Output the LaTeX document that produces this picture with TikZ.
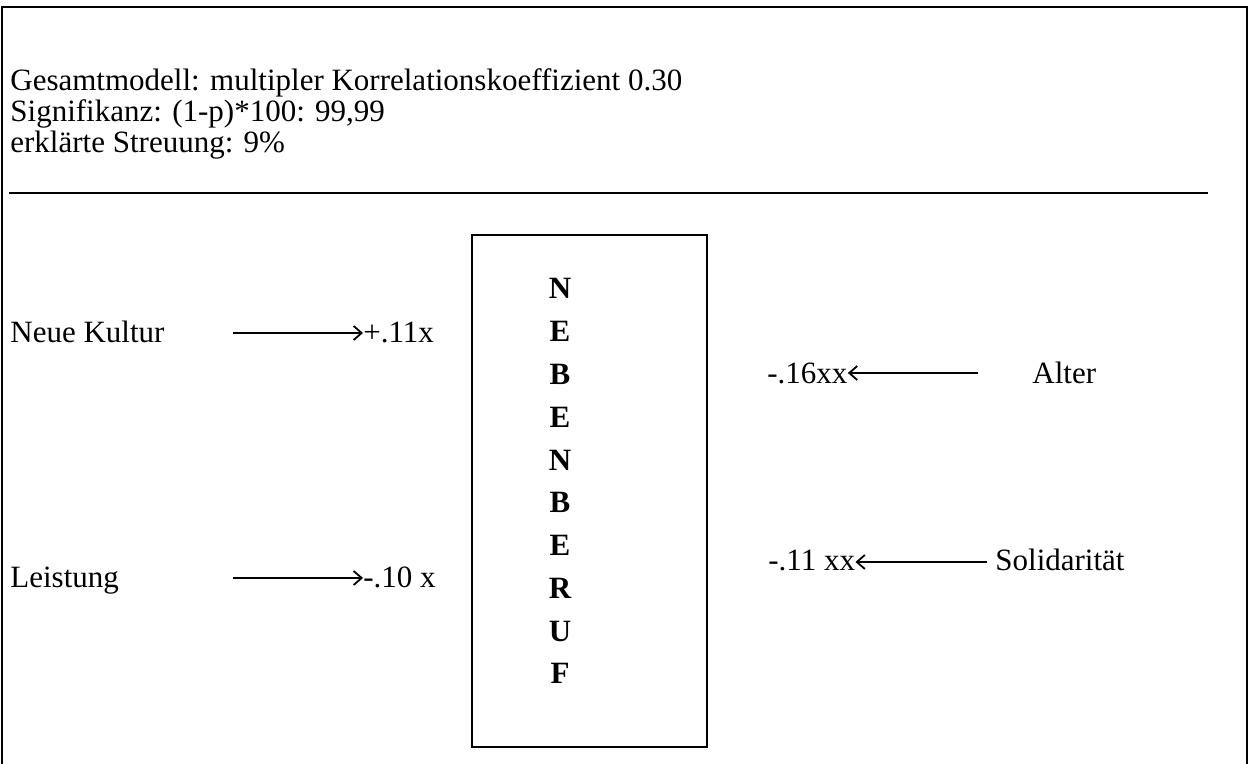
\documentclass[tikz,border=0pt]{standalone}
\usepackage{fontspec}
\setmainfont{Liberation Serif}
\usetikzlibrary{positioning,arrows.meta}

\begin{document}
\begin{tikzpicture}[
    x=0.5pt, y=-0.5pt,
    txt/.style={anchor=base west, inner sep=0pt, font=\fontsize{15.5}{15.5}\selectfont},
    val/.style={txt},
    frameline/.style={draw=black, line width=1.4pt},
    boxline/.style={draw=black, line width=1pt},
    pfeil/.style={draw=black, line width=0.6pt, -{Straight Barb[length=4pt, width=7pt, line width=0.9pt]}},
    letters/.style={anchor=base, inner sep=0pt, align=center, font=\bfseries\fontsize{15.5}{21.4}\selectfont}
]
\useasboundingbox (0,0) rectangle (1249,764);

% Outer frame (open at the bottom)
\draw[frameline] (2,764) -- (2,7) -- (1247,7) -- (1247,764);

% Header
\node[txt] (gesamt) at (10,91) {Gesamtmodell: multipler Korrelationskoeffizient 0.30};
\node[txt] (signif) at (10,122) {Signifikanz: (1-p)*100: 99,99};
\node[txt] (streu) at (10,153) {erklärte Streuung: 9\%};

% Separator
\draw[line width=1pt] (9,193) -- (1208,193);

% Central box (base anchor sits on the last line)
\draw[boxline] (472,235) rectangle (707,747);
\node[letters] (neben) at (560,684) {N\\E\\B\\E\\N\\B\\E\\R\\U\\F};

% Left predictors
\node[txt] (kultur) at (10,343) {Neue Kultur};
\node[val] (kulturval) at (363,343) {+.11x};
\coordinate (kulturstart) at (233,333);
\draw[pfeil] (kulturstart) -- (kulturstart -| kulturval.west);

\node[txt] (leistung) at (10,588) {Leistung};
\node[val] (leistungval) at (363,588) {-.10 x};
\coordinate (leistungstart) at (233,578);
\draw[pfeil] (leistungstart) -- (leistungstart -| leistungval.west);

% Right predictors
\node[val] (alterval) at (767,384) {-.16xx};
\node[txt] (alter) at (1032,384) {Alter};
\coordinate (alterstart) at (978,373);
\draw[pfeil] (alterstart) -- (alterstart -| alterval.east);

\node[val] (solival) at (768,571) {-.11 xx};
\node[txt] (soli) at (995,571) {Solidarität};
\coordinate (solistart) at (987,562);
\draw[pfeil] (solistart) -- (solistart -| solival.east);

\end{tikzpicture}
\end{document}
